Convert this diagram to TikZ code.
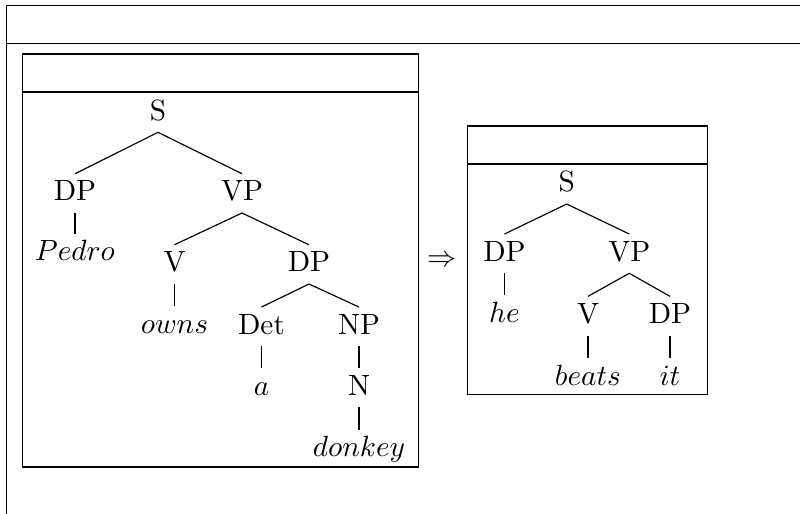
\documentclass[tikz,border=0pt]{standalone}
\begin{document}
\begin{tikzpicture}[x=0.012cm, y=-0.012cm,
    cat/.style={anchor=base, inner sep=2.5pt, text height=6.5pt, text depth=1.5pt}]
    % Fix the frame to the reference size
    \useasboundingbox (0,0) rectangle (800,514);
    \clip (0,0) rectangle (800,514);

    % Draw the outer box (it runs off the page)
    \draw (6.5,5.5) rectangle (830,540);
    \draw (6.5,43.7) -- (830,43.7);

    % Draw the left box
    \draw (22.5,54) rectangle (418.7,467);
    \draw (22.5,92) -- (418.7,92);

    % Tree of the first sentence
    \node[cat] (s1) at (158,120) {S};
    \node[cat] (dp1) at (75,200.7) {DP};
    \node[cat] (vp1) at (242,200.7) {VP};
    \node[cat] (pedro) at (75,260.7) {$Pedro$};
    \node[cat] (v1) at (174.5,271.7) {V};
    \node[cat] (dp2) at (309,271.7) {DP};
    \node[cat] (owns) at (174.5,333.3) {$owns$};
    \node[cat] (det) at (261.5,334) {Det};
    \node[cat] (np) at (359,334) {NP};
    \node[cat] (a) at (261.5,395) {$a$};
    \node[cat] (n) at (359,395) {N};
    \node[cat] (donkey) at (359,456.7) {$donkey$};

    \foreach \p/\c in {s1/dp1, s1/vp1, dp1/pedro, vp1/v1, vp1/dp2, v1/owns,
                       dp2/det, dp2/np, det/a, np/n, n/donkey}
        \draw (\p.south) -- (\c.north);

    % Arrow between the boxes
    \node (arrow) at (442,261) {$\Rightarrow$};

    % Draw the right box
    \draw (467.3,126) rectangle (707.3,394.3);
    \draw (467.3,164) -- (707.3,164);

    % Tree of the second sentence
    \node[cat] (s2) at (566.7,191.7) {S};
    \node[cat] (dp3) at (504.5,261) {DP};
    \node[cat] (vp2) at (629.3,261) {VP};
    \node[cat] (he) at (504.5,322.3) {$he$};
    \node[cat] (v2) at (588,323.3) {V};
    \node[cat] (dp4) at (670,323.3) {DP};
    \node[cat] (beats) at (588,385) {$beats$};
    \node[cat] (it) at (670,385) {$it$};

    \foreach \p/\c in {s2/dp3, s2/vp2, dp3/he, vp2/v2, vp2/dp4, v2/beats, dp4/it}
        \draw (\p.south) -- (\c.north);
\end{tikzpicture}
\end{document}
